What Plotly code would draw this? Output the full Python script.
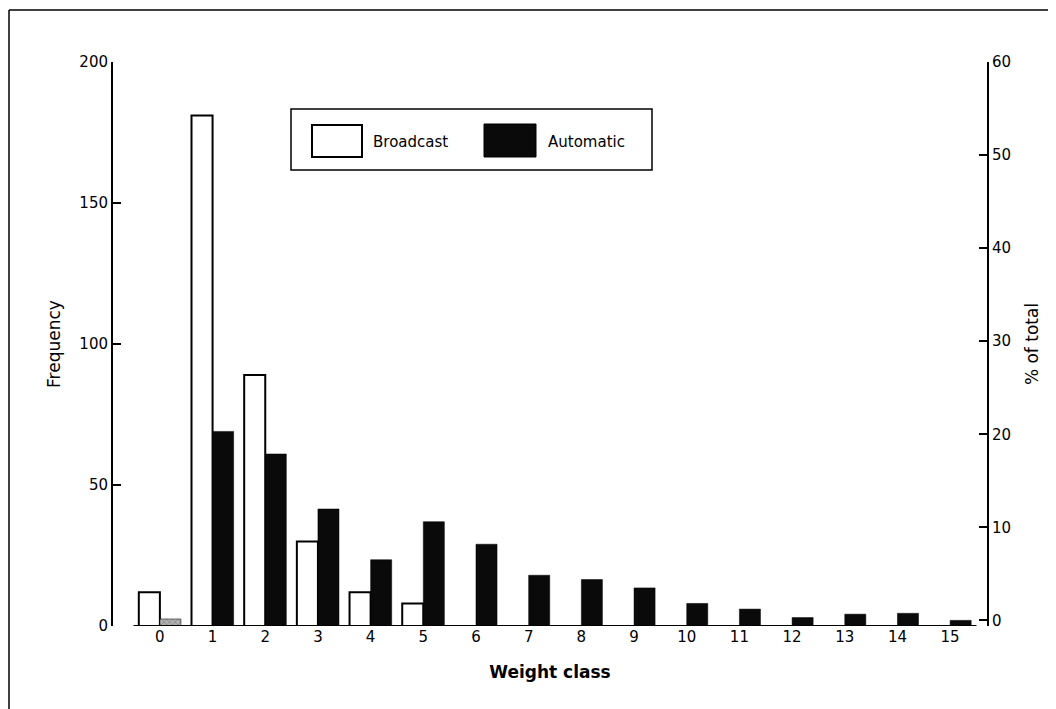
import plotly.graph_objects as go

# ---- data ----
weight_classes = list(range(16))
class_labels = [str(c) for c in weight_classes]
broadcast_freq = [12, 181, 89, 30, 12, 8, 0, 0, 0, 0, 0, 0, 0, 0, 0, 0]
automatic_freq = [2.5, 69, 61, 41.5, 23.5, 37, 29, 18, 16.5, 13.5, 8, 6, 3, 4.2, 4.5, 2]
freq_ticks = [0, 50, 100, 150, 200]
pct_ticks = [0, 10, 20, 30, 40, 50, 60]

FONT = "DejaVu Sans"

auto_colors = ["#b0b0b0"] + ["#0a0a0a"] * (len(weight_classes) - 1)
auto_patterns = ["x"] + [""] * (len(weight_classes) - 1)

# The page body has an 8px margin, so the figure is 8px smaller than the window
OFF = 8
W, H = 1056 - OFF, 709 - OFF
PL, PR, PT, PB = 113, 987, 62, 626  # plot area in window pixels

fig = go.Figure()
fig.add_trace(go.Bar(
    x=weight_classes, y=broadcast_freq, name="Broadcast",
    marker=dict(color="white", line=dict(color="black", width=2)),
))
fig.add_trace(go.Bar(
    x=weight_classes, y=automatic_freq, name="Automatic",
    marker=dict(color=auto_colors, line=dict(color="black", width=0.5),
                pattern=dict(shape=auto_patterns, fgcolor="black", size=4, solidity=0.25)),
))
# invisible trace to activate the right-hand axis
fig.add_trace(go.Scatter(x=[None], y=[None], yaxis="y2", showlegend=False, hoverinfo="skip"))

fig.update_layout(
    width=W, height=H,
    paper_bgcolor="white", plot_bgcolor="white",
    margin=dict(l=PL - OFF, r=W - (PR - OFF), t=PT - OFF, b=H - (PB - OFF)),
    barmode="group", bargap=0.2, bargroupgap=0.0,
    showlegend=False,
    font=dict(family=FONT, size=15, color="black"),
    xaxis=dict(
        range=[-0.89, 15.70], tickvals=weight_classes, ticktext=class_labels,
        showline=False, showgrid=False, zeroline=False, ticks="",
        tickfont=dict(size=15),
        title=dict(text="<b>Weight class</b>", font=dict(size=17), standoff=21),
    ),
    yaxis=dict(
        range=[0, 200], tickvals=freq_ticks, showgrid=False, zeroline=False,
        showline=True, linecolor="black", linewidth=2,
        ticks="inside", ticklen=8, tickwidth=2, tickcolor="black",
        tickfont=dict(size=15),
        title=dict(text="Frequency", font=dict(size=17), standoff=14),
    ),
    yaxis2=dict(
        overlaying="y", side="right", anchor="x",
        range=[-0.6, 60], tickvals=pct_ticks, showgrid=False, zeroline=False,
        showline=True, linecolor="black", linewidth=2,
        ticks="inside", ticklen=8, tickwidth=2, tickcolor="black",
        tickfont=dict(size=15),
        title=dict(text="% of total", font=dict(size=17), standoff=16),
    ),
)

# baseline under the bars
fig.add_shape(type="line", xref="x", yref="y", x0=-0.5, x1=15.5, y0=0, y1=0,
              line=dict(color="black", width=2))

def px_x(px):
    return (px - PL) / (PR - PL)

def px_y(py):
    return (PB - py) / (PB - PT)

# page frame (top and left edge of the scanned figure)
fig.add_shape(type="line", xref="paper", yref="paper",
              x0=px_x(9), x1=px_x(1056), y0=px_y(10), y1=px_y(10),
              line=dict(color="black", width=1.5))
fig.add_shape(type="line", xref="paper", yref="paper",
              x0=px_x(9), x1=px_x(9), y0=px_y(10), y1=px_y(709),
              line=dict(color="black", width=1.5))

# manual legend with large swatches
fig.add_shape(type="rect", xref="paper", yref="paper",
              x0=px_x(291), x1=px_x(652), y0=px_y(170), y1=px_y(109),
              line=dict(color="black", width=1.5), fillcolor="white")
fig.add_shape(type="rect", xref="paper", yref="paper",
              x0=px_x(312), x1=px_x(362), y0=px_y(157), y1=px_y(125),
              line=dict(color="black", width=2), fillcolor="white")
fig.add_shape(type="rect", xref="paper", yref="paper",
              x0=px_x(484), x1=px_x(536), y0=px_y(157), y1=px_y(124),
              line=dict(color="black", width=1), fillcolor="#0a0a0a")
fig.add_annotation(xref="paper", yref="paper", x=px_x(371), y=px_y(142),
                   text="Broadcast", showarrow=False, xanchor="left", yanchor="middle",
                   font=dict(size=15))
fig.add_annotation(xref="paper", yref="paper", x=px_x(546), y=px_y(142),
                   text="Automatic", showarrow=False, xanchor="left", yanchor="middle",
                   font=dict(size=15))

fig.write_html("out.html")
